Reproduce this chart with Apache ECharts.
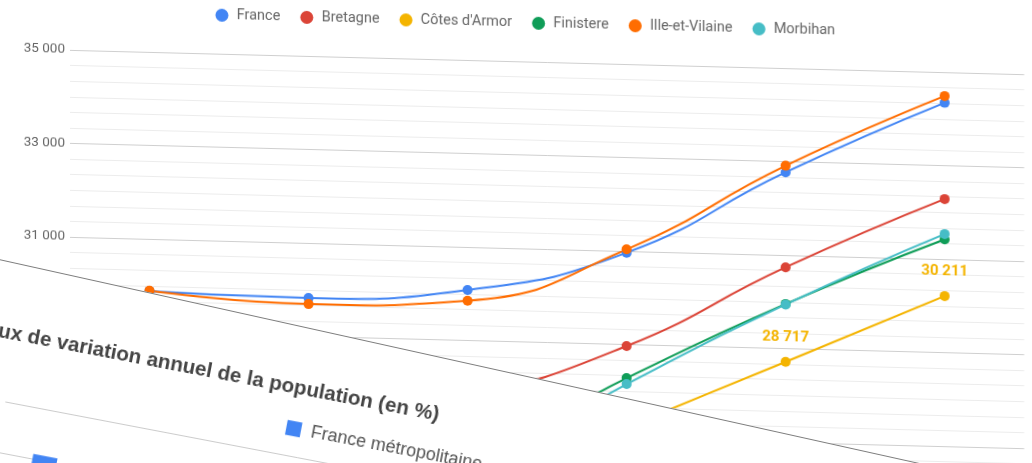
<!DOCTYPE html>
<html>
<head>
<meta charset="utf-8">
<script src="https://cdn.jsdelivr.net/npm/echarts@6/dist/echarts.min.js"></script>
<style>
  html, body { margin: 0; padding: 0; background: #fff; overflow: hidden; }
  #wrap { position: relative; width: 1032px; height: 463px; overflow: hidden; background: #fff; }
  #chart { position: absolute; left: 0; top: 0; width: 1032px; height: 463px;
           transform: skewY(1.46deg); transform-origin: 75px 50px; }
  #cardbg { position: absolute; left: -100px; top: 237.4px; width: 1500px; height: 600px;
            background: #fff; border-top: 1px solid #7d7d7d;
            transform: rotate(12.5deg); transform-origin: 0 0; }
  #card { position: absolute; left: -100px; top: 248.8px; width: 1500px; height: 600px;
          transform: rotate(10.8deg); transform-origin: 0 0; }
</style>
</head>
<body>
<div id="wrap">
  <div id="chart"></div>
  <div id="cardbg"></div>
  <div id="card"></div>
</div>
<script>
// main chart data
const years = ['2013', '2014', '2015', '2016', '2017', '2018'];
const seriesNames = ['France', 'Bretagne', "Côtes d'Armor", 'Finistere', 'Ille-et-Vilaine', 'Morbihan'];
const seriesColors = ['#4285F4', '#DB4437', '#F4B400', '#0F9D58', '#FF6D01', '#46BDC6'];
const france = [29885, 29821, 30080, 30964, 32771, 34345];
const bretagne = [27450, 27380, 27830, 28968, 30739, 32286];
const cotesArmor = [25350, 25280, 25700, 27230, 28717, 30211];
const finistere = [26000, 25950, 26500, 28283, 29954, 31423];
const illeVilaine = [29892, 29693, 29851, 31036, 32912, 34489];
const morbihan = [25800, 25700, 26230, 28155, 29943, 31537];
const labelledPoints = [4, 5]; // annotations shown on Côtes d'Armor

// card chart data
const periods = ['1968-1975', '1975-1982', '1982-1990', '1990-1999', '1999-2010', '2010-2015'];
const tauxFrance = [0.62, 0.46, 0.51, 0.37, 0.58, 0.45];

const fmt = v => String(v).replace(/\B(?=(\d{3})+(?!\d))/g, ' ');

const getMainOption = () => {
  const values = [france, bretagne, cotesArmor, finistere, illeVilaine, morbihan];
  return {
    animation: false,
    title: {
      text: 'Revenu disponible médian (€)',
      right: 102,
      top: -32,
      padding: 0,
      textStyle: { fontFamily: 'Roboto', fontSize: 16, fontWeight: 'bold', color: '#444' }
    },
    legend: {
      top: 4,
      left: 215.5,
      padding: 0,
      icon: 'circle',
      itemWidth: 19.5,
      itemHeight: 13,
      itemGap: 20,
      textStyle: { fontFamily: 'Roboto', fontSize: 14.5, color: '#666' }
    },
    grid: { left: 70, top: 50, width: 954.5, height: 467.5, outerBoundsMode: 'none' },
    xAxis: { type: 'category', data: years, boundaryGap: true, show: false },
    yAxis: {
      type: 'value',
      min: 25000,
      max: 35000,
      interval: 1000,
      axisLine: { show: false },
      axisTick: { show: false },
      axisLabel: {
        margin: 5,
        fontFamily: 'Roboto',
        fontSize: 13.5,
        color: '#666',
        formatter: v => (v % 2000 === 1000 ? fmt(v) : '')
      },
      splitLine: { lineStyle: { color: ['#cfcfcf', '#ececec'], width: 1 } },
      minorTick: { show: false, splitNumber: 3 },
      minorSplitLine: { show: true, lineStyle: { color: '#ececec', width: 1 } }
    },
    series: seriesNames.map((name, i) => ({
      name: name,
      type: 'line',
      smooth: true,
      symbol: 'circle',
      symbolSize: 10,
      lineStyle: { width: 2 },
      itemStyle: { color: seriesColors[i] },
      label: {
        show: false,
        position: 'top',
        distance: 12,
        fontFamily: 'Roboto',
        fontSize: 15,
        fontWeight: 'bold',
        color: seriesColors[i],
        formatter: p => fmt(p.value)
      },
      data: values[i].map((v, j) =>
        i === 2 && labelledPoints.includes(j) ? { value: v, label: { show: true } } : v)
    }))
  };
};

const getCardOption = () => {
  return {
    animation: false,
    title: {
      text: 'Taux de variation annuel de la population (en %)',
      left: 89.6,
      top: 51.7,
      padding: 0,
      textStyle: { fontFamily: "'Liberation Sans', Arial", fontSize: 20.6, fontWeight: 'bold', color: '#444' }
    },
    legend: {
      left: 412.9,
      top: 93.7,
      padding: 0,
      icon: 'rect',
      itemWidth: 15,
      itemHeight: 15,
      textStyle: { fontFamily: "'Liberation Sans', Arial", fontSize: 18, color: '#555', padding: [0, 0, 0, 5] }
    },
    grid: { left: 132.2, top: 130, width: 594, height: 206, outerBoundsMode: 'none' },
    xAxis: {
      type: 'category',
      data: periods,
      axisTick: { show: false },
      axisLine: { lineStyle: { color: '#333' } },
      axisLabel: { fontFamily: "'Liberation Sans', Arial", fontSize: 14, color: '#222' }
    },
    yAxis: {
      type: 'value',
      min: 0,
      max: 0.8,
      interval: 0.2,
      axisLabel: {
        margin: 16,
        fontFamily: "'Liberation Sans', Arial",
        fontSize: 14,
        color: '#444',
        formatter: v => v.toFixed(1).replace('.', ',')
      },
      splitLine: { lineStyle: { color: '#cccccc' } }
    },
    series: [{
      name: 'France métropolitaine',
      type: 'bar',
      barWidth: 24.6,
      itemStyle: { color: '#4285F4' },
      data: tauxFrance
    }]
  };
};

const initCharts = () => {
  const chart = echarts.init(document.getElementById('chart'));
  chart.setOption(getMainOption());
  const card = echarts.init(document.getElementById('card'));
  card.setOption(getCardOption());
};

window.addEventListener('load', () => {
  initCharts();
});
</script>
</body>
</html>
